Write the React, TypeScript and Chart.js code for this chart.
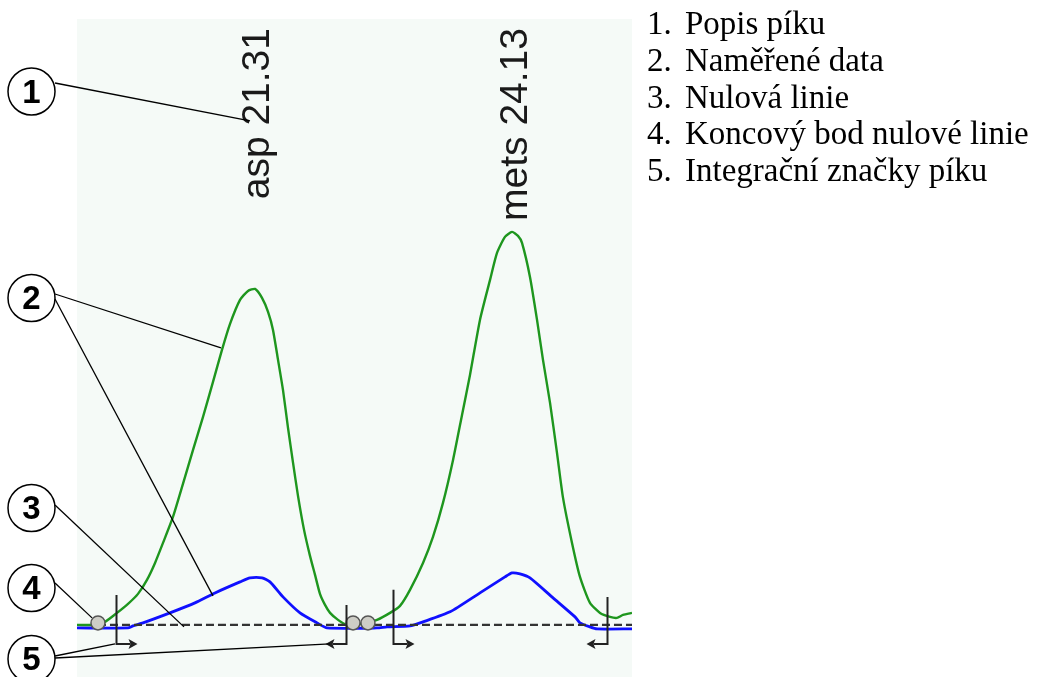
import React, { useEffect, useRef } from 'react';
import { Chart, registerables } from 'chart.js';

Chart.register(...registerables);

// Retention time (min) / signal for the measured traces
const greenTimes = [19.38, 19.577, 19.686, 19.817, 19.937, 20.046, 20.144, 20.232, 20.319, 20.428, 20.537, 20.647, 20.756, 20.865, 20.963, 21.051, 21.16, 21.247, 21.324, 21.4, 21.466, 21.52, 21.575, 21.629, 21.684, 21.739, 21.793, 21.859, 21.924, 21.979, 22.033, 22.088, 22.143, 22.23, 22.328, 22.416, 22.525, 22.656, 22.798, 22.907, 23.016, 23.158, 23.267, 23.376, 23.486, 23.584, 23.671, 23.78, 23.89, 23.966, 24.053, 24.13, 24.195, 24.239, 24.326, 24.403, 24.468, 24.545, 24.621, 24.687, 24.785, 24.872, 24.981, 25.091, 25.2, 25.276, 25.342, 25.44];
const greenValues = [0, 0, 0.5, 1.98, 3.47, 5.12, 7.43, 10.23, 13.53, 17.82, 23.27, 28.88, 34.33, 40.1, 45.39, 49.68, 53.64, 55.12, 55.45, 53.97, 51.66, 48.69, 43.74, 38.78, 32.51, 26.74, 21.29, 15.68, 11.39, 8.25, 5.12, 3.3, 1.98, 0.83, 0, 0, 0.33, 0.83, 1.98, 3.14, 5.78, 10.23, 14.52, 20.13, 27.23, 34.66, 41.25, 50.34, 56.94, 61.39, 64.04, 64.86, 64.2, 63.05, 57.43, 50.34, 43.74, 36.64, 28.39, 20.96, 13.53, 7.92, 3.63, 1.98, 1.32, 1.16, 1.65, 1.98];

const blueTimes = [19.38, 19.937, 19.991, 20.101, 20.395, 20.668, 20.887, 21.16, 21.269, 21.4, 21.487, 21.629, 21.815, 22.001, 22.11, 22.656, 22.765, 23.016, 23.158, 23.453, 23.78, 24.053, 24.13, 24.217, 24.326, 24.578, 24.818, 24.872, 24.981, 25.058, 25.44];
const blueValues = [-0.5, -0.5, -0.17, 0.33, 1.98, 3.63, 5.28, 7.1, 7.76, 7.76, 7.1, 4.62, 1.98, 0.33, -0.5, -0.5, -0.33, -0.17, 0.5, 2.15, 5.28, 7.92, 8.58, 8.42, 7.76, 4.46, 1.32, 0.33, -0.33, -0.66, -0.66];

// Zero line (baseline) and its end points
const baselineTimes = [19.609, 22.394, 22.557, 25.44];
const baselineValues = [0, 0, 0, 0];
const endpointTimes = [19.609, 22.394, 22.557];
const endpointValues = [0.33, 0.33, 0.33];

// Peaks
const peakNames = ['asp', 'mets'];
const peakTimes = [21.31, 24.13];

// Peak integration marks
const markTimes = [19.806, 22.317, 22.83, 25.167];
const markDirections = [1, -1, 1, -1];
const markTops = [4.95, 3.3, 5.78, 4.62];
const markBottom = -3.14;

// Legend
const legendItems = ['Popis píku', 'Naměřené data', 'Nulová linie', 'Koncový bod nulové linie', 'Integrační značky píku'];

// Callouts: number, the leader lines' targets (data units)
const calloutNumbers = ['1', '2', '3', '4', '5'];
const leaderTargetTimes = [21.269, 20.952, 20.865, 20.548, 19.544, 19.795, 22.142];
const leaderTargetValues = [83.18, 45.72, 4.79, -0.33, 1.16, -3.14, -3.14];

// layout of callout circles (pixels)
const CALLOUT_X = 31.5;
const CALLOUT_Y = [91.5, 298, 508, 588, 659];
const CALLOUT_R = 23.5;
const LEADER_START = [
  [55, 83],
  [55, 294],
  [55, 299],
  [55, 505],
  [55, 583],
  [55, 656],
  [55, 658],
];

const overlayPlugin = {
  id: 'overlay',
  beforeDatasetsDraw(chart: any) {
    const { ctx, chartArea } = chart;
    ctx.save();
    ctx.fillStyle = '#f5faf7';
    ctx.fillRect(chartArea.left, chartArea.top, chartArea.right - chartArea.left, chartArea.bottom - chartArea.top);
    ctx.restore();
  },
  afterDatasetsDraw(chart: any) {
    const { ctx, chartArea } = chart;
    const xs = chart.scales.x;
    const ys = chart.scales.y;
    ctx.save();

    // integration marks
    ctx.strokeStyle = '#222';
    ctx.fillStyle = '#222';
    ctx.lineWidth = 2;
    for (let i = 0; i < markTimes.length; i++) {
      const x = Math.round(xs.getPixelForValue(markTimes[i])) + 0.5;
      const yt = ys.getPixelForValue(markTops[i]);
      const yb = Math.round(ys.getPixelForValue(markBottom));
      const d = markDirections[i];
      ctx.beginPath();
      ctx.moveTo(x, yt);
      ctx.lineTo(x, yb);
      ctx.lineTo(x + d * 14, yb);
      ctx.stroke();
      ctx.beginPath();
      ctx.moveTo(x + d * 21, yb);
      ctx.lineTo(x + d * 12, yb - 5);
      ctx.lineTo(x + d * 14, yb);
      ctx.lineTo(x + d * 12, yb + 5);
      ctx.closePath();
      ctx.fill();
    }

    // peak labels
    ctx.fillStyle = '#1a1a1a';
    ctx.font = '39px "Liberation Sans", Arial, sans-serif';
    ctx.textAlign = 'right';
    ctx.textBaseline = 'alphabetic';
    for (let i = 0; i < peakNames.length; i++) {
      const x = xs.getPixelForValue(peakTimes[i]);
      ctx.save();
      ctx.translate(x + 15, chartArea.top + 9);
      ctx.rotate(-Math.PI / 2);
      ctx.fillText(`${peakNames[i]} ${peakTimes[i].toFixed(2)}`, 0, 0);
      ctx.restore();
    }

    // leader lines
    ctx.strokeStyle = '#000';
    ctx.lineWidth = 1.3;
    for (let i = 0; i < leaderTargetTimes.length; i++) {
      const [sx, sy] = LEADER_START[i];
      const tx = xs.getPixelForValue(leaderTargetTimes[i]);
      const ty = ys.getPixelForValue(leaderTargetValues[i]);
      ctx.beginPath();
      ctx.moveTo(sx, sy);
      ctx.lineTo(tx, ty);
      ctx.stroke();
    }

    // callout circles
    ctx.lineWidth = 1.5;
    ctx.textAlign = 'center';
    ctx.textBaseline = 'middle';
    for (let i = 0; i < calloutNumbers.length; i++) {
      ctx.beginPath();
      ctx.arc(CALLOUT_X, CALLOUT_Y[i], CALLOUT_R, 0, Math.PI * 2);
      ctx.fillStyle = '#fff';
      ctx.fill();
      ctx.stroke();
      ctx.fillStyle = '#000';
      ctx.font = 'bold 33px "Liberation Sans", Arial, sans-serif';
      ctx.fillText(calloutNumbers[i], CALLOUT_X, CALLOUT_Y[i] + 2);
    }
    ctx.restore();
  },
};

export default function App() {
  const canvasRef = useRef<HTMLCanvasElement | null>(null);

  useEffect(() => {
    if (!canvasRef.current) return;
    const toPts = (xs: number[], ys: number[]) => xs.map((x, i) => ({ x, y: ys[i] }));
    const chart = new Chart(canvasRef.current, {
      type: 'line',
      data: {
        datasets: [
          {
            label: 'endpoints',
            data: toPts(endpointTimes, endpointValues),
            showLine: false,
            pointRadius: 7,
            pointBackgroundColor: '#cdcdc6',
            pointBorderColor: '#555',
            pointBorderWidth: 1.5,
            order: 0,
          },
          {
            label: 'baseline',
            data: toPts(baselineTimes, baselineValues),
            borderColor: '#333',
            borderWidth: 2.2,
            borderDash: [8, 4],
            pointRadius: 0,
            order: 1,
          },
          {
            label: 'green',
            data: toPts(greenTimes, greenValues),
            borderColor: '#1e961e',
            borderWidth: 2.4,
            pointRadius: 0,
            tension: 0.2,
            order: 2,
          },
          {
            label: 'blue',
            data: toPts(blueTimes, blueValues),
            borderColor: '#1010ff',
            borderWidth: 2.8,
            pointRadius: 0,
            tension: 0.2,
            order: 3,
          },
        ],
      },
      options: {
        responsive: false,
        animation: false,
        layout: { autoPadding: false, padding: { left: 77, right: 405, top: 19, bottom: 0 } },
        scales: {
          x: { type: 'linear', min: 19.38, max: 25.44, display: false },
          y: { type: 'linear', min: -8.6, max: 100, display: false },
        },
        plugins: {
          legend: { display: false },
          tooltip: { enabled: false },
        },
      },
      plugins: [overlayPlugin],
    } as any);
    return () => chart.destroy();
  }, []);

  return (
    <div style={{ position: 'fixed', left: 0, top: 0, width: 1037, height: 677, background: '#fff', overflow: 'hidden' }}>
      <canvas ref={canvasRef} width={1037} height={677} style={{ position: 'absolute', left: 0, top: 0 }} />
      <div
        style={{
          position: 'absolute',
          left: 647,
          top: 5,
          fontFamily: '"Liberation Serif", "Times New Roman", serif',
          fontSize: 33,
          lineHeight: '36.75px',
          color: '#000',
        }}
      >
        {legendItems.map((t, i) => (
          <div key={i} style={{ whiteSpace: 'nowrap' }}>
            <span style={{ display: 'inline-block', width: 38 }}>{i + 1}.</span>
            {t}
          </div>
        ))}
      </div>
    </div>
  );
}
